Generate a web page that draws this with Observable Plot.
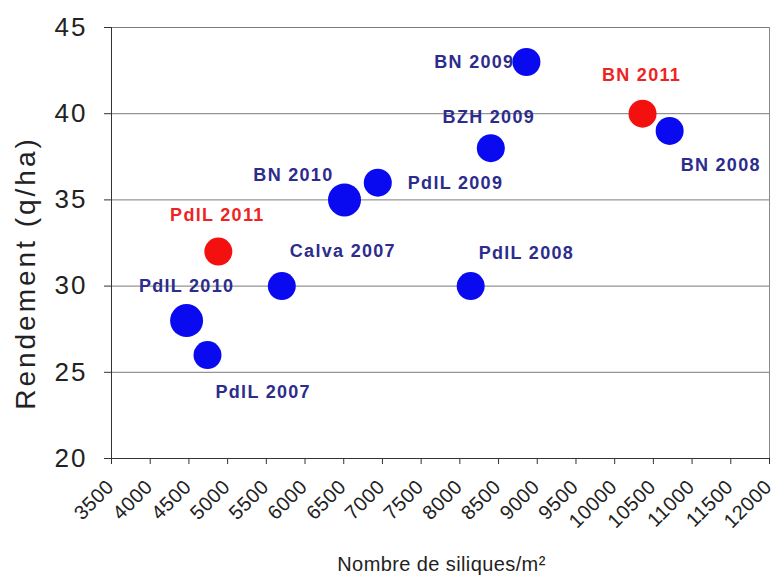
<!DOCTYPE html>
<html><head><meta charset="utf-8">
<script src="https://cdn.jsdelivr.net/npm/d3@7"></script>
<script src="https://cdn.jsdelivr.net/npm/@observablehq/plot@0.6"></script>
<style>
body{margin:0;background:#fff;font-family:"Liberation Sans",Arial,sans-serif}
</style>
</head><body><div id="chart"></div>
<script>
// Data
const names = ["PdlL 2010","PdlL 2007","PdlL 2011","Calva 2007","BN 2010","PdlL 2009","PdlL 2008","BZH 2009","BN 2009","BN 2011","BN 2008"];
const siliques = [4470, 4740, 4880, 5700, 6510, 6940, 8140, 8400, 8860, 10360, 10710];
const rendement = [28, 26, 32, 30, 35, 36, 30, 38, 43, 40, 39];
const campaign2011 = ["PdlL 2011","BN 2011"];
const largePoints = ["PdlL 2010","BN 2010"];
const xTicks = [3500,4000,4500,5000,5500,6000,6500,7000,7500,8000,8500,9000,9500,10000,10500,11000,11500,12000];
const yTicks = [20,25,30,35,40,45];
const xTitle = "Nombre de siliques/m²";
const yTitle = "Rendement (q/ha)";

// Label placement (style): [textAnchor, dx, dy]
const labelPlace = {
  "PdlL 2010": ["middle", 0, -34],
  "PdlL 2007": ["start", 8, 37],
  "PdlL 2011": ["middle", -1, -36],
  "Calva 2007": ["start", 8, -35],
  "BN 2010": ["end", -11, -25],
  "PdlL 2009": ["start", 30, 1],
  "PdlL 2008": ["start", 8, -33],
  "BZH 2009": ["middle", -2, -31],
  "BN 2009": ["end", -12, 0],
  "BN 2011": ["middle", -1, -38],
  "BN 2008": ["start", 11, 34]
};

const rows = names.map((n, i) => ({name: n, x: siliques[i], y: rendement[i],
  red: campaign2011.includes(n), big: largePoints.includes(n)}));

const labelMarks = ["start","middle","end"].flatMap(anchor =>
  rows.filter(d => labelPlace[d.name][0] === anchor).map(d =>
    Plot.text([d], {x: "x", y: "y", text: "name", textAnchor: anchor,
      dx: labelPlace[d.name][1], dy: labelPlace[d.name][2],
      fill: d.red ? "#ee2424" : "#2c2c8c", fontSize: 18, fontWeight: "bold"})));

const chart = Plot.plot({
  width: 775, height: 578,
  marginLeft: 111, marginRight: 6, marginTop: 27, marginBottom: 120,
  style: {fontFamily: "'Liberation Sans', Arial, sans-serif", background: "#fff"},
  x: {domain: [3500, 12000]},
  y: {domain: [20, 45]},
  r: {type: "identity"},
  marks: [
    Plot.gridY(yTicks.filter(t => t > 20), {stroke: "#7a7a7a", strokeOpacity: 1}),
    Plot.ruleX([12000], {stroke: "#8a8a8a"}),
    Plot.ruleX([3500], {stroke: "#333"}),
    Plot.ruleY([20], {stroke: "#333"}),
    Plot.axisY({ticks: yTicks, tickSize: 7, tickPadding: 17, fontSize: 26, fill: "#222", stroke: "#333", label: null}),
    Plot.axisX({ticks: xTicks, tickSize: 6, stroke: "#333", label: null, tickFormat: () => ""}),
    Plot.axisX({ticks: xTicks, tickSize: 0, tickPadding: 25, tickRotate: -45, fontSize: 20, fill: "#222", label: null, dx: -1, tickFormat: d => String(d)}),
    Plot.dot(rows, {x: "x", y: "y", r: d => d.big ? 16.5 : 14, fill: d => d.red ? "#f51010" : "#0a0af0", stroke: "none"}),
    ...labelMarks,
    Plot.text([yTitle], {frameAnchor: "left", rotate: -90, dx: -85, dy: 30, fontSize: 28, fill: "#222", textAnchor: "middle"}),
    Plot.text([xTitle], {frameAnchor: "bottom", dy: 112, dx: 1, fontSize: 20, fill: "#222", textAnchor: "middle"})
  ]
});
chart.querySelectorAll("text").forEach(t => {
  const s = t.textContent;
  let ls = null;
  if (names.includes(s)) ls = "1.3px";
  else if (s === yTitle) ls = "3px";
  else if (s === xTitle) ls = "0.4px";
  else if (yTicks.map(String).includes(s)) ls = "2px";
  if (s.length >= 4 && /^\d+$/.test(s)) ls = "0.5px";
  if (ls) { t.setAttribute("letter-spacing", ls); t.style.letterSpacing = ls; }
});
document.getElementById("chart").appendChild(chart);
</script>
</body></html>
